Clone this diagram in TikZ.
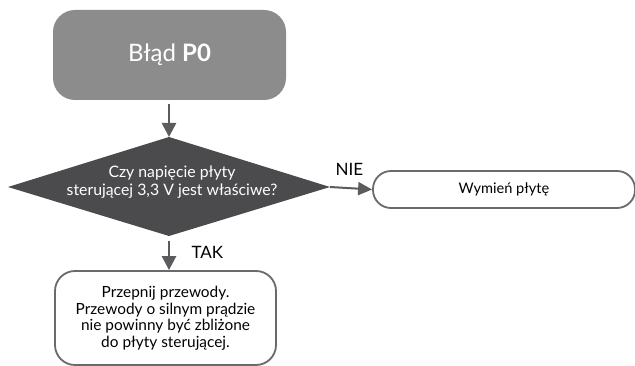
\documentclass[tikz,border=0pt]{standalone}
\usepackage{fontspec}
\setmainfont{Lato}
\usetikzlibrary{arrows.meta,shapes.geometric}
\definecolor{topgray}{HTML}{8C8C8D}
\definecolor{darkgray}{HTML}{4B4B4D}
\definecolor{arrgray}{HTML}{5C5C5E}
\definecolor{bordergray}{HTML}{6A6A6C}
\tikzset{
  flow/.style={draw=arrgray, line width=2.6pt, -{Triangle[length=14pt,width=14pt]}},
  flowthin/.style={draw=arrgray, line width=2pt, -{Triangle[length=14pt,width=13pt]}},
  whitebox/.style={draw=bordergray, line width=1.8pt, fill=white, text=black},
  lbl/.style={font=\fontsize{17}{20}\selectfont, text=black},
}
\begin{document}
\begin{tikzpicture}[x=1pt,y=-1pt]
\useasboundingbox[fill=white] (0,0) rectangle (635,366);
% top box
\node[fill=topgray, rounded corners=22pt, minimum width=233pt, minimum height=90pt, text=white, font=\fontsize{24}{28}\selectfont, inner sep=0pt] (start) at (169.5,55) {Błąd \textbf{P0}};
% diamond
\path[fill=darkgray] (169,137) -- (330,187) -- (169,236) -- (8,187) -- cycle;
\coordinate (dtop) at (169,137);
\coordinate (dright) at (330,187);
\coordinate (dbot) at (169,236);
\node[text=white, align=center, font=\fontsize{15.8}{18}\selectfont] (q) at (172,182) {Czy napięcie płyty\\sterującej 3,3 V jest właściwe?};
% right box
\node[whitebox, rounded corners=18pt, minimum width=262pt, minimum height=37pt, font=\fontsize{14.6}{17}\selectfont, inner sep=0pt] (repl) at (504,189.5) {Wymień płytę};
% bottom box
\node[whitebox, rounded corners=20pt, minimum width=221pt, minimum height=94pt, align=center, font=\fontsize{15.4}{16.5}\selectfont, inner sep=0pt] (fix) at (165.5,318) {Przepnij przewody.\\Przewody o silnym prądzie\\nie powinny być zbliżone\\do płyty sterującej.};
% arrows
\draw[flow] (169,104) -- (dtop);
\draw[flowthin] (dright) -- (repl.west);
\draw[flow] (169,241) -- (fix.north -| 169,0);
\node[lbl, anchor=south west] (nie) at (332,179) {NIE};
\node[lbl, anchor=west] (tak) at (188,252) {TAK};
\end{tikzpicture}
\end{document}
